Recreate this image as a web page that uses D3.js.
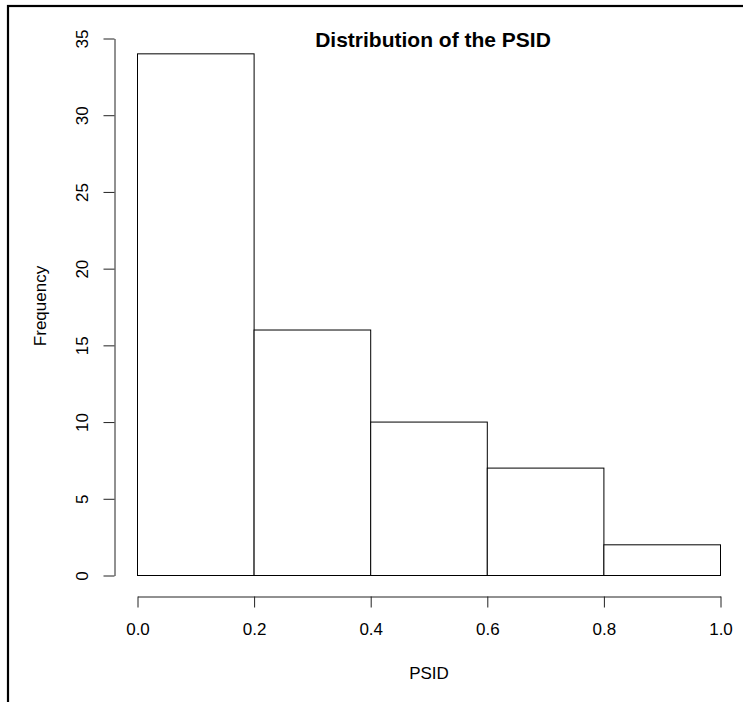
<!DOCTYPE html>
<html>
<head>
<meta charset="utf-8">
<script src="https://cdn.jsdelivr.net/npm/d3@7"></script>
<style>
  body { margin: 0; background: #fff; }
  svg { display: block; font-family: "Liberation Sans", Arial, Helvetica, sans-serif; }
</style>
</head>
<body>
<div id="chart"></div>
<script>
// histogram bins and counts
const binEdges = [0.0, 0.2, 0.4, 0.6, 0.8, 1.0];
const counts = [34, 16, 10, 7, 2];
const xTicks = [0.0, 0.2, 0.4, 0.6, 0.8, 1.0];
const yTicks = [0, 5, 10, 15, 20, 25, 30, 35];

const bins = counts.map((c, i) => ({x0: binEdges[i], x1: binEdges[i + 1], count: c}));

const W = 743, H = 702;
const svg = d3.select('#chart').append('svg').attr('width', W).attr('height', H);

// outer frame (runs off the right and bottom of the picture)
svg.append('rect')
    .attr('x', 8).attr('y', 6)
    .attr('width', W + 20).attr('height', H + 20)
    .attr('fill', 'none').attr('stroke', '#000').attr('stroke-width', 2.2);

const x = d3.scaleLinear().domain([0, 1]).range([137.5, 720.5]);
const y = d3.scaleLinear().domain([0, 35]).range([575.5, 38.5]);

// bars
svg.append('g').selectAll('rect')
    .data(bins)
    .join('rect')
    .attr('x', d => x(d.x0))
    .attr('y', d => y(d.count))
    .attr('width', d => x(d.x1) - x(d.x0))
    .attr('height', d => y(0) - y(d.count))
    .attr('fill', '#fff')
    .attr('stroke', '#000')
    .attr('stroke-width', 1);

// x axis
const xAxis = svg.append('g')
    .attr('transform', 'translate(0,596.5)')
    .call(d3.axisBottom(x).tickValues(xTicks).tickSize(11).tickSizeOuter(0).tickFormat(d3.format('.1f')));
xAxis.select('.domain').attr('stroke', '#222');
xAxis.selectAll('.tick line').attr('stroke', '#222');
xAxis.selectAll('.tick text')
    .attr('y', 38.5).attr('dy', null)
    .attr('font-size', 17).attr('fill', '#000')
    .attr('font-family', '"Liberation Sans", Arial, sans-serif');

// y axis
const yAxis = svg.append('g')
    .attr('transform', 'translate(114.5,0)')
    .call(d3.axisLeft(y).tickValues(yTicks).tickSize(11).tickSizeOuter(0));
yAxis.select('.domain').attr('stroke', '#222');
yAxis.selectAll('.tick line').attr('stroke', '#222');
yAxis.selectAll('.tick text')
    .attr('x', null).attr('dy', null)
    .attr('transform', 'translate(-27,0) rotate(-90)')
    .attr('text-anchor', 'middle')
    .attr('font-size', 17).attr('fill', '#000')
    .attr('font-family', '"Liberation Sans", Arial, sans-serif');

// title
svg.append('text')
    .attr('x', 433).attr('y', 47)
    .attr('text-anchor', 'middle')
    .attr('font-size', 21).attr('font-weight', 'bold')
    .text('Distribution of the PSID');

// axis titles
svg.append('text')
    .attr('x', (x(0) + x(1)) / 2).attr('y', 679)
    .attr('text-anchor', 'middle')
    .attr('font-size', 17)
    .text('PSID');

svg.append('text')
    .attr('transform', 'translate(46,306) rotate(-90)')
    .attr('text-anchor', 'middle')
    .attr('font-size', 17)
    .text('Frequency');
</script>
</body>
</html>
